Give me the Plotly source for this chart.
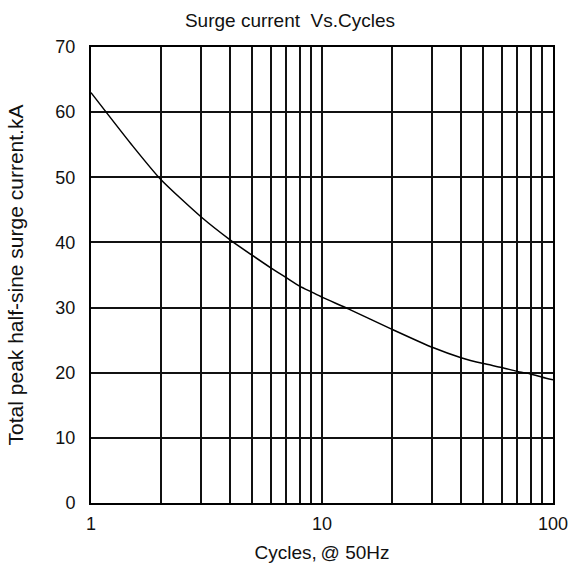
import plotly.graph_objects as go

# Data
cycles = [1, 1.5, 2, 3, 4, 5, 6, 7, 8, 9, 10, 13, 20, 30, 40, 50, 60, 70, 80, 90, 100]
surge_kA = [63.0, 55.0, 49.7, 43.9, 40.4, 38.0, 36.1, 34.6, 33.3, 32.4, 31.6, 29.8,
            26.7, 23.9, 22.3, 21.4, 20.8, 20.2, 19.8, 19.3, 18.9]

x_grid = [1, 2, 3, 4, 5, 6, 7, 8, 9, 10, 20, 30, 40, 50, 60, 70, 80, 90, 100]
x_labels = {1: "1", 10: "10", 100: "100"}
y_ticks = [0, 10, 20, 30, 40, 50, 60, 70]

FONT = "Liberation Sans, Arial, sans-serif"

W, H = 568, 567

fig = go.Figure()
fig.add_trace(go.Scatter(
    x=cycles, y=surge_kA, mode="lines",
    line=dict(color="black", width=1.5, shape="spline", smoothing=0.6),
    showlegend=False, hoverinfo="skip",
))

fig.update_layout(
    width=W, height=H,
    margin=dict(l=91, r=15, t=47, b=64),
    paper_bgcolor="white", plot_bgcolor="white",
    font=dict(family=FONT, size=18, color="#111"),
    title=dict(text="Surge current\u00a0\u00a0Vs.Cycles", x=290 / W, xanchor="center",
               y=1 - 20 / H, yref="container", yanchor="middle",
               font=dict(size=19, family=FONT)),
)

fig.update_xaxes(
    type="log", range=[0, 2], automargin=False,
    tickvals=x_grid, ticktext=[x_labels.get(v, "") for v in x_grid],
    tickfont=dict(size=18), ticklabeloverflow="allow",
    showgrid=True, gridcolor="#111", gridwidth=1.6,
    showline=True, linecolor="black", linewidth=2, mirror=True,
    ticks="", ticklabelstandoff=3,
    zeroline=False,
    title=dict(text="Cycles,\u2009@ 50Hz", font=dict(size=19, family=FONT), standoff=13),
)
fig.update_yaxes(
    range=[0, 70], tickvals=y_ticks, automargin=False,
    tickfont=dict(size=18),
    showgrid=True, gridcolor="#111", gridwidth=1.6,
    showline=True, linecolor="black", linewidth=2, mirror=True,
    ticks="", ticklabelstandoff=10,
    zeroline=False,
    title=dict(text="Total peak half-sine surge current.kA", font=dict(size=21, family=FONT), standoff=26),
)

# remove the browser's default 8px body margin so the figure fills the window
fig.write_html(
    "out.html",
    config={"displayModeBar": False},
    post_script="document.body.style.margin='0';document.body.style.overflow='hidden';",
)
